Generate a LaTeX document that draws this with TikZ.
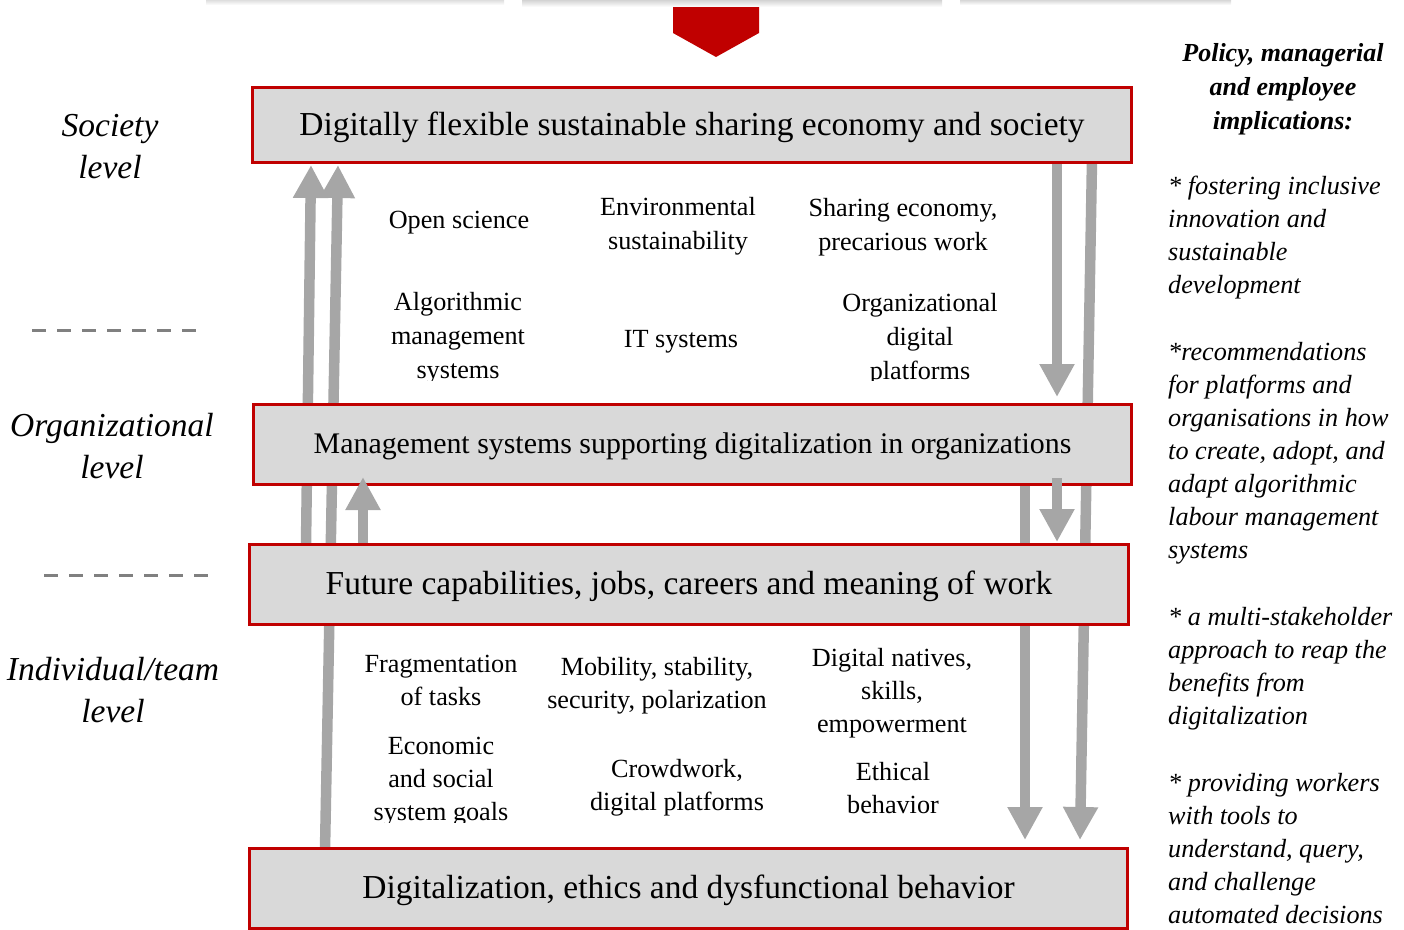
\documentclass[tikz,border=0pt]{standalone}
\usepackage{fontspec}
\setmainfont{Liberation Serif}
\usetikzlibrary{arrows.meta}
\definecolor{boxred}{HTML}{C00000}
\definecolor{boxgray}{HTML}{D9D9D9}
\definecolor{arrgray}{HTML}{A6A6A6}
\definecolor{dashgray}{HTML}{808080}
\newcommand{\lowertxt}[1]{\raisebox{-2pt}[\height][\depth]{#1}}
\tikzset{
  levelbox/.style={draw=boxred, fill=boxgray, line width=3pt, inner sep=0pt, anchor=north west},
  arr/.style={draw=arrgray, line width=10.5pt, -{Triangle[width=33pt,length=33pt]}},
  topic/.style={align=center, inner sep=0pt, anchor=base, font=\fontsize{26.2}{34}\selectfont},
  topicb/.style={align=center, inner sep=0pt, anchor=base, font=\fontsize{26.2}{33}\selectfont},
  levellbl/.style={align=center, inner sep=0pt, anchor=base, font=\fontsize{33.5}{42}\selectfont\itshape},
  sep/.style={draw=dashgray, line width=3pt, dash pattern=on 14pt off 11pt},
  impl/.style={align=left, inner sep=0pt, anchor=base west, font=\fontsize{26.2}{33}\selectfont\itshape},
  implhead/.style={align=center, inner sep=0pt, anchor=base, font=\fontsize{26}{34}\selectfont\bfseries\itshape},
}
\begin{document}
\begin{tikzpicture}[x=1pt,y=-1pt]
\useasboundingbox (0,0) rectangle (1404,929);
% faint shadowed boxes at top edge
\shade[top color=black!18, bottom color=white] (206,-2) rectangle (504,5);
\shade[top color=black!22, bottom color=white] (522,-2) rectangle (942,7);
\shade[top color=black!22, bottom color=white] (960,-2) rectangle (1231,5);
% red arrow at top
\fill[boxred] (673,7) -- (759,7) -- (759,33) -- (716,57) -- (673,33) -- cycle;
% coordinates for connectors
\coordinate (aS) at (325,850); \coordinate (aE) at (338,165);
\coordinate (bS) at (306,545); \coordinate (bE) at (311,165);
\coordinate (cS) at (363,543); \coordinate (cE) at (363,477);
\coordinate (dS) at (1057,160); \coordinate (dE) at (1057,397);
\coordinate (eS) at (1092,160); \coordinate (eE) at (1080,840);
\coordinate (fS) at (1025,480); \coordinate (fE) at (1025,840);
\coordinate (gS) at (1057,478); \coordinate (gE) at (1057,542);
% long arrows (behind boxes)
\draw[arr] (aS) -- (aE);
\draw[arr] (bS) -- (bE);
\draw[arr] (dS) -- (dE);
\draw[arr] (eS) -- (eE);
\draw[arr] (fS) -- (fE);
% level boxes
\node[levelbox, minimum width=879pt, minimum height=75pt, font=\fontsize{33.5}{40}\selectfont] (b1) at (251,86) {\lowertxt{Digitally flexible sustainable sharing economy and society}};
\node[levelbox, minimum width=878pt, minimum height=80pt, font=\fontsize{29.9}{36}\selectfont] (b2) at (252,403) {\lowertxt{Management systems supporting digitalization in organizations}};
\node[levelbox, minimum width=879pt, minimum height=80pt, font=\fontsize{33.5}{40}\selectfont] (b3) at (248,543) {\lowertxt{Future capabilities, jobs, careers and meaning of work}};
\node[levelbox, minimum width=878pt, minimum height=80pt, font=\fontsize{33.5}{40}\selectfont] (b4) at (248,847) {\lowertxt{Digitalization, ethics and dysfunctional behavior}};
% short arrows (on top)
\draw[arr] (cS) -- (cE);
\draw[arr] (gS) -- (gE);
% society band topics
\begin{scope}
\clip (340,170) rectangle (1010,380);
\node[topic] (t1) at (459,228) {Open science};
\node[topic] (t2) at (678,249) {Environmental\\sustainability};
\node[topic] (t3) at (903,250) {Sharing economy,\\precarious work};
\node[topic] (t4) at (458,378) {Algorithmic\\management\\systems};
\node[topic] (t5) at (681,347) {IT systems};
\node[topic] (t6) at (920,379) {Organizational\\digital\\platforms};
\end{scope}
% individual band topics
\begin{scope}
\clip (340,630) rectangle (1010,822);
\node[topicb] (u1) at (441,705) {Fragmentation\\of tasks};
\node[topicb] (u2) at (657,708) {Mobility, stability,\\security, polarization};
\node[topicb] (u3) at (892,732) {Digital natives,\\skills,\\empowerment};
\node[topicb] (u4) at (441,820) {Economic\\and social\\system goals};
\node[topicb] (u5) at (677,810) {Crowdwork,\\digital platforms};
\node[topicb] (u6) at (893,813) {Ethical\\behavior};
\end{scope}
% level labels
\node[levellbl] (l1) at (110,178) {Society\\level};
\node[levellbl] (l2) at (112,478) {Organizational\\level};
\node[levellbl] (l3) at (113,722) {Individual/team\\level};
\coordinate (s1a) at (32,330); \coordinate (s1b) at (196,330);
\coordinate (s2a) at (44,575); \coordinate (s2b) at (208,575);
\draw[sep] (s1a) -- (s1b);
\draw[sep] (s2a) -- (s2b);
% implications
\node[implhead] (h) at (1283,129) {Policy, managerial\\and employee\\implications:};
\node[impl] (p1) at (1168,293) {* fostering inclusive\\innovation and\\sustainable\\development};
\node[impl] (p2) at (1168,558) {*recommendations\\for platforms and\\organisations in how\\to create, adopt, and\\adapt algorithmic\\labour management\\systems};
\node[impl] (p3) at (1168,724) {* a multi-stakeholder\\approach to reap the\\benefits from\\digitalization};
\node[impl] (p4) at (1168,923) {* providing workers\\with tools to\\understand, query,\\and challenge\\automated decisions};
\end{tikzpicture}
\end{document}
